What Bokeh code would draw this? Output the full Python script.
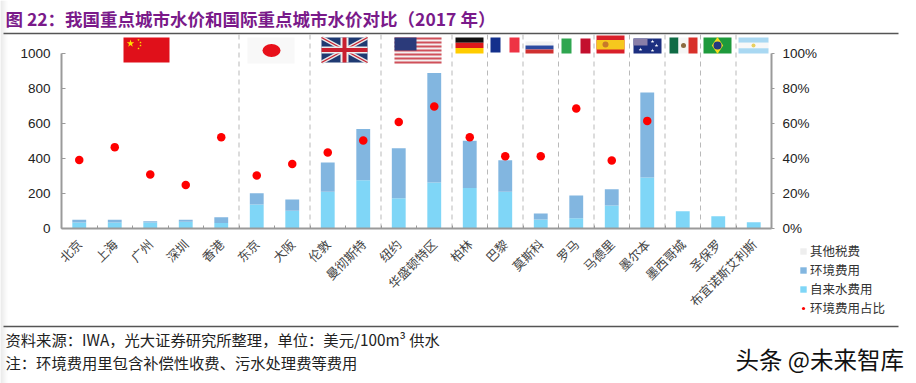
from bokeh.plotting import figure
from bokeh.embed import file_html
from bokeh.resources import INLINE
from bokeh.models import (Range1d, LinearAxis, FixedTicker, NumeralTickFormatter,
                          Label, Legend, LegendItem, ColumnDataSource)

CJK = "Noto Sans CJK SC"
LAT = "Liberation Sans"
nan = float("nan")

cities = ["北京", "上海", "广州", "深圳", "香港", "东京", "大阪", "伦敦", "曼彻斯特", "纽约",
          "华盛顿特区", "柏林", "巴黎", "莫斯科", "罗马", "马德里", "墨尔本", "墨西哥城", "圣保罗",
          "布宜诺斯艾利斯"]
water = [34, 34, 34, 38, 32, 137, 101, 210, 276, 173, 263, 232, 210, 51, 59, 131, 291, 99, 70, 36]
environment = [16, 16, 8, 12, 33, 65, 65, 167, 292, 286, 625, 269, 180, 35, 130, 94, 486, 0, 0, 0]
other_tax = [0] * 20
env_share = [0.392, 0.465, 0.309, 0.248, 0.522, 0.303, 0.368, 0.434, 0.503, 0.608, 0.697, 0.522,
             0.413, 0.413, 0.686, 0.389, 0.615, nan, nan, nan]
separators = [5, 7, 9, 11, 12, 13, 14, 15, 16, 17, 18, 19]
left_ticks = [0, 200, 400, 600, 800, 1000]
right_ticks = [0, 0.2, 0.4, 0.6, 0.8, 1.0]
legend_labels = ["其他税费", "环境费用", "自来水费用", "环境费用占比"]
colors = ["#7FD6F7", "#82B6E0", "#EEEEEE"]
COLON, COMMA, LP, RP = "\uff1a", "\uff0c", "\uff08", "\uff09"
title = "图 22" + COLON + "我国重点城市水价和国际重点城市水价对比" + LP + "2017 年" + RP
source_note = "资料来源" + COLON + "IWA" + COMMA + "光大证券研究所整理" + COMMA + "单位" + COLON + "美元/100m³ 供水"
extra_note = "注" + COLON + "环境费用里包含补偿性收费、污水处理费等费用"

W, H = 916, 383
X0, X1, YTOP, YBOT = 61, 771, 0, 228
YMAX = (YBOT - YTOP) / 0.175
ABS = {"position": "absolute", "left": "0px", "top": "0px"}

# ---- backdrop: full-canvas figure in page pixels (title, notes, rules, flags, legend)
bg = figure(width=W, height=H, x_range=Range1d(0, W), y_range=Range1d(H, 0), output_backend="svg",
            toolbar_location=None, min_border=0, outline_line_color=None, styles=ABS)
bg.axis.visible = False
bg.grid.visible = False

def box(x0, x1, y0, y1, c):
    bg.quad(left=[x0], right=[x1], top=[y0], bottom=[y1], color=c, line_color=None)
def stars(xs, ys, s, c="#FFDE00"):
    bg.scatter(xs, ys, marker="star", size=s, color=c, line_color=None)
def seg(x0, y0, x1, y1, c, w):
    bg.segment([x0], [y0], [x1], [y1], line_color=c, line_width=w)
def text(x, y, s, size, color="#222222", font=CJK, style="normal"):
    bg.add_layout(Label(x=x, y=y, text=s, text_font=font, text_font_size=size, text_color=color,
                        text_font_style=style, text_baseline="middle", text_align="left"))

for i, c in enumerate(["#E4E4E4", "#E8E8E8", "#ECECEC", "#F0F0F0", "#F4F4F4", "#F8F8F8", "#FBFBFB"]):
    box(i, i + 1, 0, H, c)

box(123, 169, 37, 62, "#E0101A")
stars([130], [43], 8); stars([138, 140, 140, 138], [39.5, 42, 45, 48], 2.5)
box(247, 294, 37, 63, "#F8F8F8")
bg.ellipse([271], [50], width=18, height=13, color="#E8101A", line_color=None)
box(321, 367, 37, 62, "#1F3A72")
seg(321, 37, 367, 62, "#E8E8E8", 4); seg(321, 62, 367, 37, "#E8E8E8", 4)
seg(321, 37, 367, 62, "#C8202F", 1.3); seg(321, 62, 367, 37, "#C8202F", 1.3)
box(340, 348, 37, 62, "#EEEEEE"); box(321, 367, 46, 53, "#EEEEEE")
box(342, 346, 37, 62, "#C8202F"); box(321, 367, 47.5, 51.5, "#C8202F")
box(394, 441, 37, 63, "#F4F0F0")
for i in range(7):
    box(394, 441, 37 + i * 4, 39 + i * 4, "#D0505A")
box(394, 416, 37, 50, "#2B3A7A")
box(455, 483, 37, 42.3, "#111111"); box(455, 483, 42.3, 47.6, "#DD1A1A"); box(455, 483, 47.6, 53, "#FFCC00")
box(490, 500, 37, 52, "#13308C"); box(509, 519, 37, 52, "#EE3344")
box(525, 553, 41, 45, "#F2F2F2"); box(525, 553, 45, 49, "#2C4BA0"); box(525, 553, 49, 53, "#D03030")
box(561, 571, 38, 53, "#2FA650"); box(580, 590, 38, 53, "#C3102E")
box(596, 624, 35, 53, "#D9202A"); box(596, 624, 39.5, 49, "#F6C81E")
bg.scatter([605], [44], size=6, color="#C8792A", line_color=None)
box(633, 661, 38, 53, "#1C2F80"); box(633, 647, 38, 45, "#8A7FA8")
stars([640, 652, 656, 652], [49, 41, 45, 50], 4, "#FFFFFF")
box(669, 678, 37, 53, "#0F6B45"); box(678, 688, 37, 53, "#F5F5F5"); box(688, 697, 37, 53, "#D8302A")
bg.scatter([683], [45], size=5, color="#8A6A40", line_color=None)
box(703, 731, 37, 53, "#1E9A3C")
bg.scatter([717], [45], marker="diamond", size=17, color="#F5DC20", line_color=None)
bg.scatter([717], [45], size=8, color="#243A80", line_color=None)
box(738, 768, 37, 42.3, "#A9D8F2"); box(738, 768, 42.3, 47.7, "#F8F8F8"); box(738, 768, 47.7, 53, "#A9D8F2")
bg.scatter([753], [45], size=4, color="#E8D060", line_color=None)

seg(3, 33, 898, 33, "#555555", 1.5)
seg(3, 326, 898, 326, "#555555", 1.5)

text(5, 18, title, "17.5px", "#7A1A8A", style="bold")
text(5, 338, source_note, "15.3px")
text(5, 361, extra_note, "15.3px")
text(735, 358, "头条 @未来智库", "23.5px", "#111111")

# legend swatches: off-canvas one-point renderers, only their legend glyphs show
def swatch(c):
    return bg.quad(left=[-40], right=[-30], top=[-40], bottom=[-30], color=c, line_color=None)
sw_o, sw_e, sw_w = swatch(colors[2]), swatch(colors[1]), swatch(colors[0])
sw_d = bg.scatter([-40], [-40], size=6.5, color="#FF0000", line_color=None)
leg = Legend(items=[LegendItem(label=legend_labels[0], renderers=[sw_o]),
                    LegendItem(label=legend_labels[1], renderers=[sw_e]),
                    LegendItem(label=legend_labels[2], renderers=[sw_w]),
                    LegendItem(label=legend_labels[3], renderers=[sw_d])],
             location=(799, H - 317), orientation="vertical", background_fill_alpha=0, border_line_color=None,
             padding=0, margin=0, spacing=0, glyph_width=8, glyph_height=8, label_standoff=3,
             label_height=16, label_text_font=CJK, label_text_font_size="12.5px", label_text_color="#333333")
bg.add_layout(leg)

# ---- chart on top, transparent so the backdrop shows through
p = figure(width=W, height=H, x_range=Range1d(0, 20), y_range=Range1d(0, YMAX),
           output_backend="svg", toolbar_location=None,
           min_border_left=X0, min_border_right=W - X1, min_border_top=YTOP,
           min_border_bottom=H - YBOT, outline_line_color=None,
           background_fill_color=None, border_fill_color=None, styles=ABS)
p.grid.visible = False
p.extra_y_ranges["pct"] = Range1d(0, YMAX / 1000)

centers = [i + 0.5 for i in range(len(cities))]

AXC = "#9a9a9a"
ya = p.yaxis[0]
ya.ticker = FixedTicker(ticks=left_ticks)
ya.bounds = (0, 1000)
ya.axis_line_color = AXC; ya.axis_line_width = 2
ya.major_tick_line_color = AXC; ya.major_tick_in = 4; ya.major_tick_out = 0
ya.minor_tick_line_color = None
ya.major_label_standoff = 11
ya.major_label_text_font = LAT; ya.major_label_text_font_size = "13.5px"
ya.major_label_text_color = "#222222"

ra = LinearAxis(y_range_name="pct", ticker=FixedTicker(ticks=right_ticks), bounds=(0, 1),
                formatter=NumeralTickFormatter(format="0%"))
ra.axis_line_color = AXC; ra.axis_line_width = 2
ra.major_tick_line_color = AXC; ra.major_tick_in = 0; ra.major_tick_out = 3
ra.minor_tick_line_color = None
ra.major_label_standoff = 8
ra.major_label_text_font = LAT; ra.major_label_text_font_size = "13.5px"
ra.major_label_text_color = "#222222"
p.add_layout(ra, "right")

xa = p.xaxis[0]
xa.ticker = FixedTicker(ticks=centers, minor_ticks=list(range(21)))
xa.major_label_overrides = dict(zip(centers, cities))
xa.axis_line_color = AXC; xa.axis_line_width = 2
xa.major_tick_line_color = None
xa.minor_tick_line_color = AXC; xa.minor_tick_in = 3; xa.minor_tick_out = 0
xa.major_label_orientation = 0.785
xa.major_label_standoff = 7
xa.major_label_text_font = CJK; xa.major_label_text_font_size = "12.5px"
xa.major_label_text_color = "#444444"

p.segment(x0=separators, x1=separators, y0=[0] * len(separators), y1=[1110] * len(separators),
          line_color="#b9b9b9", line_dash="5 4", line_width=1)

src = ColumnDataSource(dict(x=centers, water=water, environment=environment, other=other_tax, share=env_share))
p.vbar_stack(["water", "environment", "other"], x="x", width=0.39, source=src, color=colors, line_color=None)
p.scatter(x="x", y="share", source=src, y_range_name="pct", size=8.5, color="#FF0000", line_color=None)

open("out.html", "w").write(file_html((bg, p), INLINE))
